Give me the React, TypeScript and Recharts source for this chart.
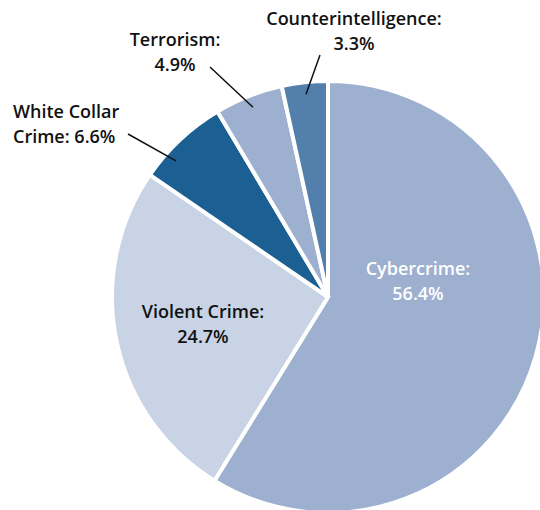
import { Pie, PieChart, Cell } from "recharts";

const categories = [
  "Cybercrime",
  "Violent Crime",
  "White Collar Crime",
  "Terrorism",
  "Counterintelligence",
];
const shares = [56.4, 24.7, 6.6, 4.9, 3.3];
const labelLines = [
  ["Cybercrime:", "56.4%"],
  ["Violent Crime:", "24.7%"],
  ["White Collar", "Crime: 6.6%"],
  ["Terrorism:", "4.9%"],
  ["Counterintelligence:", "3.3%"],
];

const COLORS = ["#9db0cf", "#c8d3e5", "#1b5f93", "#9db0cf", "#537fac"];

// label placement relative to the pie centre (x, first baseline, anchor, leader end)
const SPOTS = [
  { dx: 90, dy: -22, anchor: "middle", fill: "#ffffff" },
  { dx: -125, dy: 21, anchor: "middle", fill: "#111111" },
  { dx: -315, dy: -179, anchor: "start", fill: "#111111", line: [-200, -163], tilt: 5 },
  { dx: -153, dy: -251, anchor: "middle", fill: "#111111", line: [-118, -230], tilt: 0 },
  { dx: 26, dy: -272, anchor: "middle", fill: "#111111", line: [-8, -242], tilt: 0 },
];

const data = categories.map((name, i) => ({ name, value: shares[i] }));

const RAD = Math.PI / 180;

function renderLabel(props: any) {
  const { cx, cy, midAngle, outerRadius, index } = props;
  const s = SPOTS[index];
  const [l1, l2] = labelLines[index];
  let leader = null;
  if (s.line) {
    const r = outerRadius - 12;
    const a = midAngle + (s.tilt || 0);
    const x1 = cx + r * Math.cos(-a * RAD);
    const y1 = cy + r * Math.sin(-a * RAD);
    leader = (
      <line
        x1={x1}
        y1={y1}
        x2={cx + s.line[0]}
        y2={cy + s.line[1]}
        stroke="#111"
        strokeWidth={1.5}
      />
    );
  }
  return (
    <g key={`lbl-${index}`}>
      {leader}
      <text
        x={cx + s.dx}
        y={cy + s.dy}
        textAnchor={s.anchor}
        fill={s.fill}
        fontFamily="'Open Sans', sans-serif"
        fontWeight={600}
        fontSize={18}
      >
        <tspan x={cx + s.dx}>{l1}</tspan>
        <tspan x={cx + s.dx} dy={25}>
          {l2}
        </tspan>
      </text>
    </g>
  );
}

export default function App() {
  return (
    <div style={{ position: "absolute", left: 0, top: 0, width: 540, height: 510, background: "#fff" }}>
      <PieChart width={540} height={510} margin={{ top: 0, right: 0, bottom: 0, left: 0 }}>
        <Pie
          data={data}
          dataKey="value"
          nameKey="name"
          cx={328}
          cy={297}
          outerRadius={216}
          startAngle={90}
          endAngle={-270}
          stroke="#ffffff"
          strokeWidth={4}
          label={renderLabel}
          labelLine={false}
          isAnimationActive={false}
        >
          {data.map((d, i) => (
            <Cell key={d.name} fill={COLORS[i]} />
          ))}
        </Pie>
      </PieChart>
    </div>
  );
}
